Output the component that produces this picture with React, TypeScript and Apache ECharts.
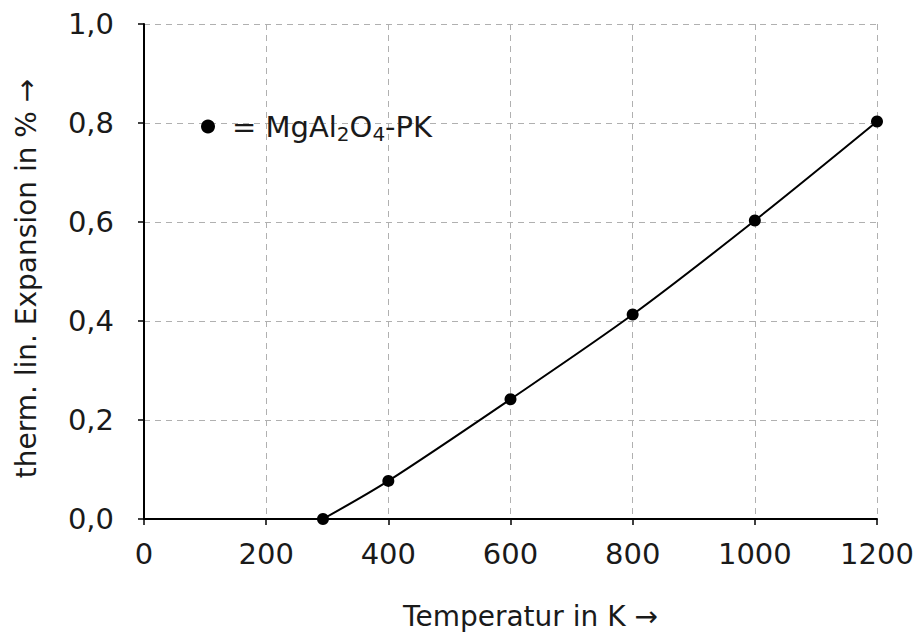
import React, { useEffect, useRef } from "react";
import * as echarts from "echarts";

const temperatures = [293, 400, 600, 800, 1000, 1200];
const expansion = [0.0, 0.077, 0.242, 0.413, 0.603, 0.803];
const xTicks = [0, 200, 400, 600, 800, 1000, 1200];
const yTicks = [0, 0.2, 0.4, 0.6, 0.8, 1.0];
const seriesName = "MgAl2O4-PK";

const FONT = "DejaVu Sans";

export default function App() {
  const ref = useRef<HTMLDivElement>(null);
  useEffect(() => {
    const chart = echarts.init(ref.current!, null, { renderer: "svg" });
    const gridLine = { show: true, lineStyle: { color: "#b0b0b0", type: [6, 5], width: 1 } };
    chart.setOption({
      animation: false,
      backgroundColor: "#ffffff",
      grid: { left: 144, right: 43, top: 24, bottom: 117, containLabel: false },
      legend: {
        left: 196,
        top: 107,
        itemWidth: 14,
        itemHeight: 14,
        icon: "circle",
        data: [seriesName],
        formatter: () => "{g|}= {a|MgAl}{s|2}{a|O}{s|4}{a|-PK}",
        textStyle: {
          fontFamily: FONT,
          fontSize: 29,
          color: "#1a1a1a",
          rich: {
            g: { width: 12 },
            a: { fontFamily: FONT, fontSize: 29, color: "#1a1a1a" },
            s: { fontFamily: FONT, fontSize: 20, color: "#1a1a1a", padding: [15, 0, 0, 0] },
          },
        },
        itemGap: 16,
      },
      xAxis: {
        type: "value",
        min: 0,
        max: 1200,
        interval: 200,
        axisLine: { show: true, onZero: false, lineStyle: { color: "#000", width: 2 } },
        axisTick: { show: true, length: 6, inside: false, lineStyle: { color: "#000", width: 1.5 } },
        axisLabel: {
          margin: 20,
          fontFamily: FONT,
          fontSize: 29,
          color: "#1a1a1a",
          formatter: (v: number) => (xTicks.includes(v) ? String(v) : ""),
        },
        splitLine: gridLine,
        name: "Temperatur in K →",
        nameLocation: "middle",
        nameGap: 83,
        nameTextStyle: { fontFamily: FONT, fontSize: 28, color: "#1a1a1a", padding: [0, 0, 0, 40] },
      },
      yAxis: {
        type: "value",
        min: 0,
        max: 1,
        interval: 0.2,
        axisLine: { show: true, onZero: false, lineStyle: { color: "#000", width: 2 } },
        axisTick: { show: true, length: 6, inside: false, lineStyle: { color: "#000", width: 1.5 } },
        axisLabel: {
          margin: 30,
          fontFamily: FONT,
          fontSize: 29,
          color: "#1a1a1a",
          formatter: (v: number) =>
            yTicks.some((t) => Math.abs(t - v) < 1e-9) ? v.toFixed(1).replace(".", ",") : "",
        },
        splitLine: gridLine,
        name: "therm. lin. Expansion in % →",
        nameLocation: "middle",
        nameGap: 104,
        nameTextStyle: { fontFamily: FONT, fontSize: 28, color: "#1a1a1a", padding: [0, 14, 0, 0] },
      },
      series: [
        {
          name: seriesName,
          type: "line",
          smooth: 0.3,
          data: temperatures.map((t, i) => [t, expansion[i]]),
          symbol: "circle",
          symbolSize: 12,
          itemStyle: { color: "#000" },
          lineStyle: { color: "#000", width: 2 },
          z: 5,
        },
      ],
    });
    return () => chart.dispose();
  }, []);
  return <div ref={ref} style={{ width: 920, height: 636, position: "absolute", left: 0, top: 0 }} />;
}
